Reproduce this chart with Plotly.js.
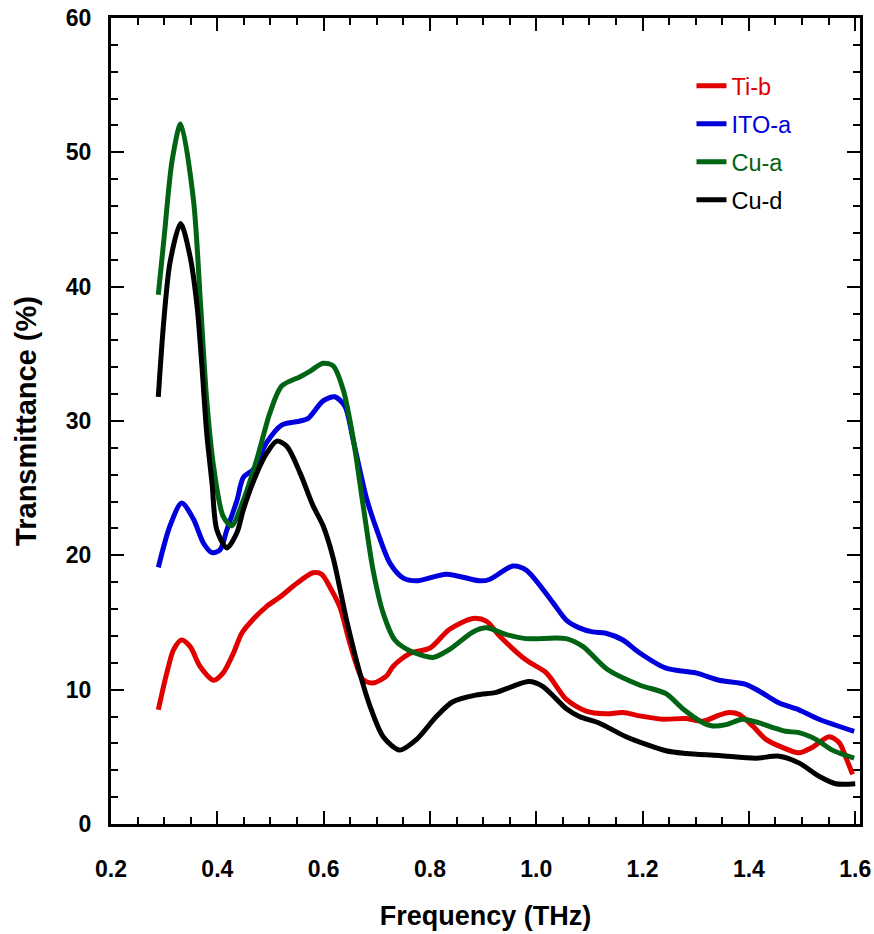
<!DOCTYPE html>
<html>
<head>
<meta charset="utf-8">
<script src="https://cdn.plot.ly/plotly-3.0.1.min.js"></script>
<style>html,body{margin:0;padding:0;background:#fff;}#chart{width:874px;height:934px;}</style>
</head>
<body>
<div id="chart"></div>
<script>
// Ti-b
const tiB_x = [0.289,0.305,0.318,0.333,0.349,0.368,0.393,0.411,0.430,0.446,0.462,0.493,0.518,0.549,0.580,0.596,0.615,0.631,0.649,0.674,0.693,0.718,0.731,0.762,0.800,0.837,0.881,0.906,0.931,0.981,1.019,1.056,1.094,1.131,1.163,1.194,1.238,1.282,1.313,1.344,1.363,1.382,1.407,1.432,1.463,1.494,1.519,1.551,1.570,1.585,1.595];
const tiB_y = [8.5,11.25,13.0,13.7,13.2,11.7,10.7,11.25,12.7,14.2,15.0,16.2,16.9,17.9,18.7,18.6,17.4,16.1,13.5,10.75,10.5,11.0,11.75,12.7,13.1,14.5,15.3,15.1,14.0,12.2,11.25,9.3,8.4,8.2,8.3,8.05,7.8,7.85,7.65,8.1,8.3,8.15,7.3,6.3,5.7,5.3,5.7,6.5,6.05,4.7,3.7];
// ITO-a
const itoA_x = [0.289,0.311,0.333,0.355,0.374,0.390,0.405,0.418,0.437,0.449,0.468,0.493,0.521,0.556,0.571,0.599,0.621,0.640,0.656,0.681,0.700,0.725,0.750,0.775,0.831,0.894,0.912,0.956,0.981,1.031,1.056,1.081,1.106,1.131,1.163,1.194,1.244,1.300,1.344,1.394,1.419,1.457,1.494,1.532,1.598];
const itoA_y = [19.1,22.2,23.9,22.7,20.9,20.2,20.4,21.9,24.1,25.8,26.4,28.4,29.7,30.0,30.2,31.5,31.8,31.1,28.5,24.2,21.9,19.4,18.3,18.1,18.6,18.1,18.2,19.2,18.9,16.5,15.2,14.6,14.3,14.2,13.7,12.75,11.6,11.25,10.7,10.4,9.9,9.0,8.5,7.8,6.9];
// Cu-a
const cuA_x = [0.289,0.300,0.315,0.331,0.355,0.368,0.380,0.393,0.411,0.427,0.449,0.474,0.499,0.521,0.556,0.574,0.599,0.618,0.637,0.656,0.674,0.693,0.712,0.734,0.762,0.806,0.837,0.881,0.906,0.944,0.981,1.056,1.088,1.134,1.194,1.244,1.275,1.311,1.332,1.357,1.388,1.413,1.444,1.469,1.494,1.526,1.557,1.598];
const cuA_y = [39.4,43.7,49.4,52.1,46.5,39.0,31.6,26.6,22.9,22.2,24.1,27.1,30.6,32.6,33.3,33.7,34.3,34.1,32.3,28.6,23.8,18.9,15.7,13.7,12.9,12.4,13.0,14.3,14.6,14.1,13.8,13.8,13.2,11.5,10.35,9.7,8.6,7.6,7.3,7.4,7.8,7.6,7.2,6.9,6.8,6.3,5.5,4.9];
// Cu-d
const cuD_x = [0.289,0.299,0.311,0.331,0.349,0.362,0.371,0.380,0.390,0.399,0.418,0.437,0.449,0.474,0.493,0.512,0.531,0.556,0.580,0.599,0.618,0.643,0.668,0.687,0.712,0.743,0.775,0.812,0.843,0.887,0.925,0.956,0.986,1.012,1.056,1.081,1.119,1.169,1.244,1.282,1.344,1.413,1.457,1.494,1.532,1.563,1.600];
const cuD_y = [31.8,37.3,41.8,44.7,42.2,38.5,34.1,29.1,25.4,21.9,20.55,21.7,23.4,26.1,27.6,28.5,28.1,26.1,23.7,22.2,19.8,15.2,11.25,8.8,6.5,5.5,6.3,8.0,9.1,9.6,9.8,10.25,10.6,10.25,8.6,8.0,7.5,6.5,5.45,5.25,5.1,4.9,5.05,4.55,3.55,3.0,3.0];

const seriesNames = ['Ti-b','ITO-a','Cu-a','Cu-d'];
const seriesColors = ['#e00000','#0000dd','#006414','#000000'];
const xs = [tiB_x, itoA_x, cuA_x, cuD_x];
const ys = [tiB_y, itoA_y, cuA_y, cuD_y];

const FONT = 'Liberation Sans, Arial, Helvetica, sans-serif';

const traces = seriesNames.map((n, i) => ({
  type: 'scatter', mode: 'lines',
  x: xs[i], y: ys[i],
  name: '<span style="color:' + seriesColors[i] + '">' + n + '</span>',
  legendgroup: 'g' + i,
  line: {color: seriesColors[i], width: 5, shape: 'spline', smoothing: 0.8},
  hoverinfo: 'skip'
}));

const axisCommon = {
  showgrid: false, zeroline: false,
  showline: true, linewidth: 3, linecolor: '#000', mirror: 'ticks',
  ticks: 'inside', ticklen: 13, tickwidth: 2, tickcolor: '#000',
  tickfont: {family: FONT, size: 23, color: '#000', weight: 'bold'}
};

const layout = {
  width: 874, height: 934,
  margin: {l: 111, r: 14, t: 18, b: 110, pad: 0},
  paper_bgcolor: '#fff', plot_bgcolor: '#fff',
  showlegend: true,
  legend: {
    x: 0.775, y: 0.943, xanchor: 'left', yanchor: 'top',
    font: {family: FONT, size: 23.5, color: '#000'},
    bgcolor: 'rgba(0,0,0,0)', borderwidth: 0,
    tracegroupgap: 4.5, traceorder: 'grouped'
  },
  xaxis: Object.assign({}, axisCommon, {
    range: [0.2, 1.609], tick0: 0.2, dtick: 0.2, tickformat: '.1f',
    ticklabelstandoff: 22,
    minor: {dtick: 0.05, tick0: 0.2, ticks: 'inside', ticklen: 7, tickwidth: 2, tickcolor: '#000'},
    title: {text: 'Frequency (THz)', font: {family: FONT, size: 27, color: '#000', weight: 'bold'}, standoff: 26}
  }),
  yaxis: Object.assign({}, axisCommon, {
    range: [0, 60], tick0: 0, dtick: 10,
    ticklabelstandoff: 12,
    minor: {dtick: 2, tick0: 0, ticks: 'inside', ticklen: 7, tickwidth: 2, tickcolor: '#000'},
    title: {text: 'Transmittance (%)', font: {family: FONT, size: 29, color: '#000', weight: 'bold'}, standoff: 21}
  })
};

Plotly.newPlot('chart', traces, layout, {staticPlot: true, displayModeBar: false});
</script>
</body>
</html>
